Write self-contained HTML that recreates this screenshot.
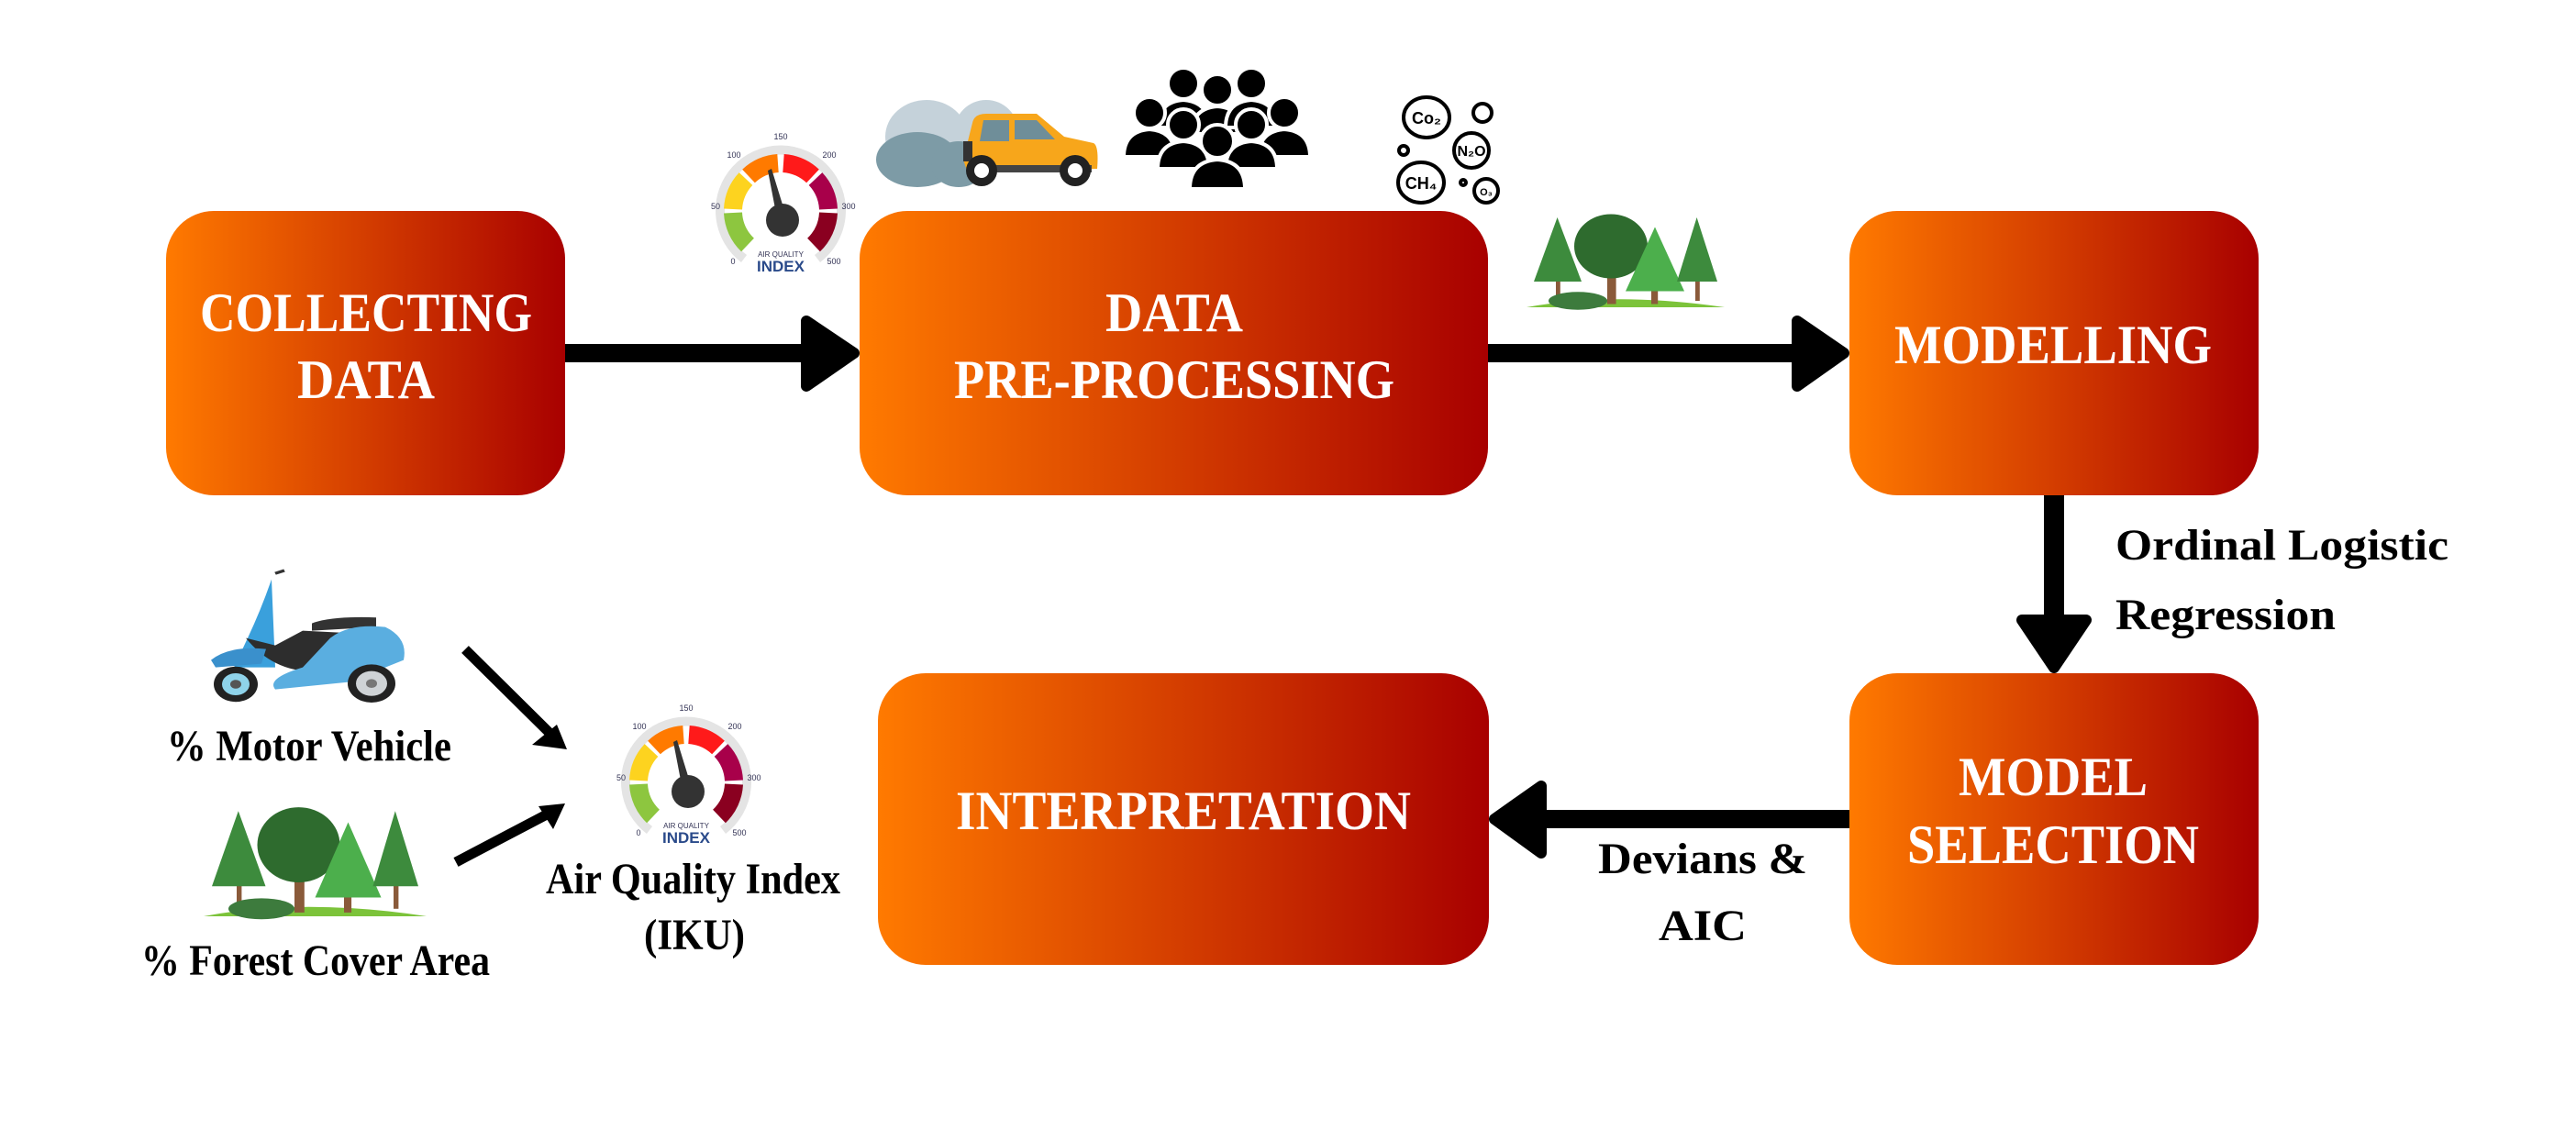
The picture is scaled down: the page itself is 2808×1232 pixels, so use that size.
<!DOCTYPE html>
<html><head><meta charset="utf-8"><style>
html,body{margin:0;padding:0;background:#fff;}
svg{display:block;}
text{font-family:"Liberation Serif",serif;font-weight:bold;}
</style></head><body>
<svg width="2808" height="1232" viewBox="0 0 2808 1232" xmlns="http://www.w3.org/2000/svg">
<defs>
<linearGradient id="g" x1="0" y1="0" x2="1" y2="0">
<stop offset="0" stop-color="#ff7a00"/><stop offset="1" stop-color="#a80000"/>
</linearGradient>
</defs>
<rect width="2808" height="1232" fill="#fff"/>

<!-- boxes -->
<rect x="181" y="230" width="435" height="310" rx="52" fill="url(#g)"/>
<rect x="937" y="230" width="685" height="310" rx="52" fill="url(#g)"/>
<rect x="2016" y="230" width="446" height="310" rx="52" fill="url(#g)"/>
<rect x="2016" y="734" width="446" height="318" rx="52" fill="url(#g)"/>
<rect x="957" y="734" width="666" height="318" rx="52" fill="url(#g)"/>

<g fill="#fff" font-size="60" text-anchor="middle">
<text x="399" y="361" textLength="362" lengthAdjust="spacingAndGlyphs">COLLECTING</text>
<text x="399" y="434" textLength="150" lengthAdjust="spacingAndGlyphs">DATA</text>
<text x="1280" y="361" textLength="150" lengthAdjust="spacingAndGlyphs">DATA</text>
<text x="1280" y="434" textLength="480" lengthAdjust="spacingAndGlyphs">PRE-PROCESSING</text>
<text x="2238" y="396" textLength="346" lengthAdjust="spacingAndGlyphs">MODELLING</text>
<text x="2238" y="867" textLength="206" lengthAdjust="spacingAndGlyphs">MODEL</text>
<text x="2238" y="941" textLength="318" lengthAdjust="spacingAndGlyphs">SELECTION</text>
<text x="1290" y="904" textLength="496" lengthAdjust="spacingAndGlyphs">INTERPRETATION</text>
</g>

<!-- arrows -->
<g fill="#000" stroke="#000" stroke-width="12" stroke-linejoin="round">
<rect x="616" y="375" width="262" height="20" stroke="none"/>
<polygon points="879,350 931,385 879,421"/>
<rect x="1622" y="375" width="336" height="20" stroke="none"/>
<polygon points="1959,350 2010,385 1959,421"/>
<rect x="2228" y="540" width="22" height="136" stroke="none"/>
<polygon points="2204,676 2274,676 2239,728"/>
<rect x="1680" y="883" width="336" height="20" stroke="none"/>
<polygon points="1680,857 1629,893 1680,930"/>
</g>
<g stroke="#000" stroke-width="11" fill="none">
<line x1="507" y1="708" x2="600" y2="800"/>
<line x1="497" y1="940" x2="596" y2="888"/>
</g>
<polygon points="618,817 580,812 607,790" fill="#000"/>
<polygon points="616,876 603,904 587,879" fill="#000"/>

<!-- labels -->
<g fill="#000" font-size="48" text-anchor="start">
<text x="182" y="829" textLength="310" lengthAdjust="spacingAndGlyphs">% Motor Vehicle</text>
<text x="154" y="1063" textLength="380" lengthAdjust="spacingAndGlyphs">% Forest Cover Area</text>
<text x="595" y="974" textLength="321" lengthAdjust="spacingAndGlyphs">Air Quality Index</text>
<text x="757" y="1035" text-anchor="middle" textLength="110" lengthAdjust="spacingAndGlyphs">(IKU)</text>
<text x="2306" y="610" textLength="363" lengthAdjust="spacingAndGlyphs">Ordinal Logistic</text>
<text x="2306" y="686" textLength="240" lengthAdjust="spacingAndGlyphs">Regression</text>
<text x="1742" y="952" textLength="228" lengthAdjust="spacingAndGlyphs">Devians &amp;</text>
<text x="1856" y="1025" text-anchor="middle" textLength="96" lengthAdjust="spacingAndGlyphs">AIC</text>
</g>

<!-- gauge 1 -->
<g transform="translate(851,230)">
<path d="M -40 52 A 66 66 0 1 1 40 52" fill="none" stroke="#e4e4e4" stroke-width="10"/>
<g fill="none" stroke-width="20">
<path d="M -36 37 A 52 52 0 0 1 -52 2" stroke="#8dc63f"/>
<path d="M -52 -2 A 52 52 0 0 1 -38 -35" stroke="#fdd31f"/>
<path d="M -35 -38 A 52 52 0 0 1 -3 -52" stroke="#ff7a00"/>
<path d="M 3 -52 A 52 52 0 0 1 35 -38" stroke="#ff1a1a"/>
<path d="M 38 -35 A 52 52 0 0 1 52 -2" stroke="#a8004a"/>
<path d="M 52 2 A 52 52 0 0 1 36 37" stroke="#8a0020"/>
</g>
<polygon points="-14,-44 -10,-46 6,6 -4,8" fill="#333"/>
<circle cx="2" cy="10" r="18" fill="#333"/>
<g fill="#335" text-anchor="middle">
<text x="0" y="-78" style="font-family:'Liberation Sans',sans-serif;font-weight:normal;font-size:9px">150</text>
<text x="-51" y="-58" style="font-family:'Liberation Sans',sans-serif;font-weight:normal;font-size:9px">100</text>
<text x="53" y="-58" style="font-family:'Liberation Sans',sans-serif;font-weight:normal;font-size:9px">200</text>
<text x="-71" y="-2" style="font-family:'Liberation Sans',sans-serif;font-weight:normal;font-size:9px">50</text>
<text x="74" y="-2" style="font-family:'Liberation Sans',sans-serif;font-weight:normal;font-size:9px">300</text>
<text x="-52" y="58" style="font-family:'Liberation Sans',sans-serif;font-weight:normal;font-size:9px">0</text>
<text x="58" y="58" style="font-family:'Liberation Sans',sans-serif;font-weight:normal;font-size:9px">500</text>
<text x="0" y="50" style="font-family:'Liberation Sans',sans-serif;font-weight:normal;font-size:8px">AIR QUALITY</text>
<text x="0" y="66" fill="#2a4a8a" style="font-family:'Liberation Sans',sans-serif;font-size:17px">INDEX</text>
</g>
</g>

<!-- gauge 2 -->
<g transform="translate(748,853)">
<path d="M -40 52 A 66 66 0 1 1 40 52" fill="none" stroke="#e4e4e4" stroke-width="10"/>
<g fill="none" stroke-width="20">
<path d="M -36 37 A 52 52 0 0 1 -52 2" stroke="#8dc63f"/>
<path d="M -52 -2 A 52 52 0 0 1 -38 -35" stroke="#fdd31f"/>
<path d="M -35 -38 A 52 52 0 0 1 -3 -52" stroke="#ff7a00"/>
<path d="M 3 -52 A 52 52 0 0 1 35 -38" stroke="#ff1a1a"/>
<path d="M 38 -35 A 52 52 0 0 1 52 -2" stroke="#a8004a"/>
<path d="M 52 2 A 52 52 0 0 1 36 37" stroke="#8a0020"/>
</g>
<polygon points="-14,-44 -10,-46 6,6 -4,8" fill="#333"/>
<circle cx="2" cy="10" r="18" fill="#333"/>
<g fill="#335" text-anchor="middle">
<text x="0" y="-78" style="font-family:'Liberation Sans',sans-serif;font-weight:normal;font-size:9px">150</text>
<text x="-51" y="-58" style="font-family:'Liberation Sans',sans-serif;font-weight:normal;font-size:9px">100</text>
<text x="53" y="-58" style="font-family:'Liberation Sans',sans-serif;font-weight:normal;font-size:9px">200</text>
<text x="-71" y="-2" style="font-family:'Liberation Sans',sans-serif;font-weight:normal;font-size:9px">50</text>
<text x="74" y="-2" style="font-family:'Liberation Sans',sans-serif;font-weight:normal;font-size:9px">300</text>
<text x="-52" y="58" style="font-family:'Liberation Sans',sans-serif;font-weight:normal;font-size:9px">0</text>
<text x="58" y="58" style="font-family:'Liberation Sans',sans-serif;font-weight:normal;font-size:9px">500</text>
<text x="0" y="50" style="font-family:'Liberation Sans',sans-serif;font-weight:normal;font-size:8px">AIR QUALITY</text>
<text x="0" y="66" fill="#2a4a8a" style="font-family:'Liberation Sans',sans-serif;font-size:17px">INDEX</text>
</g>
</g>

<!-- car & smoke -->
<g transform="translate(0,-16)">
<ellipse cx="1010" cy="165" rx="45" ry="40" fill="#c5d2da"/>
<ellipse cx="1075" cy="160" rx="35" ry="35" fill="#c5d2da"/>
<ellipse cx="1000" cy="190" rx="45" ry="30" fill="#7d9ba6"/>
<ellipse cx="1045" cy="195" rx="30" ry="25" fill="#7d9ba6"/>
<path d="M1050 190 L1060 150 Q1062 140 1075 140 L1130 140 L1160 165 L1192 172 Q1198 175 1196 200 L1055 205 Z" fill="#f7a61b"/>
<path d="M1072 147 L1100 147 L1100 170 L1068 170 Z M1106 147 L1130 147 L1150 168 L1106 168 Z" fill="#6f8e99"/>
<rect x="1050" y="170" width="10" height="22" fill="#333"/>
<rect x="1060" y="196" width="130" height="8" fill="#444"/>
<circle cx="1070" cy="202" r="17" fill="#222"/><circle cx="1070" cy="202" r="8" fill="#fff"/>
<circle cx="1172" cy="202" r="17" fill="#222"/><circle cx="1172" cy="202" r="8" fill="#fff"/>
</g>

<!-- people -->
<g fill="#000" stroke="#fff" stroke-width="4" transform="translate(0,-14)">
<g transform="translate(1290,105)"><circle r="17"/><path d="M-28 48 Q-28 20 0 18 Q28 20 28 48 Z"/></g>
<g transform="translate(1327,112)"><circle r="17"/><path d="M-28 48 Q-28 20 0 18 Q28 20 28 48 Z"/></g>
<g transform="translate(1364,105)"><circle r="17"/><path d="M-28 48 Q-28 20 0 18 Q28 20 28 48 Z"/></g>
<g transform="translate(1253,137)"><circle r="17"/><path d="M-28 48 Q-28 20 0 18 Q28 20 28 48 Z"/></g>
<g transform="translate(1400,137)"><circle r="17"/><path d="M-28 48 Q-28 20 0 18 Q28 20 28 48 Z"/></g>
<g transform="translate(1290,150)"><circle r="17"/><path d="M-28 48 Q-28 20 0 18 Q28 20 28 48 Z"/></g>
<g transform="translate(1364,150)"><circle r="17"/><path d="M-28 48 Q-28 20 0 18 Q28 20 28 48 Z"/></g>
<g transform="translate(1327,168)"><circle r="18"/><path d="M-30 52 Q-30 22 0 20 Q30 22 30 52 Z"/></g>
</g>

<!-- gases -->
<g transform="translate(0,-14)">
<g fill="none" stroke="#000" stroke-width="4">
<ellipse cx="1555" cy="142" rx="25" ry="22"/>
<circle cx="1616" cy="137" r="10"/>
<circle cx="1604" cy="178" r="19"/>
<ellipse cx="1549" cy="213" rx="25" ry="22"/>
<circle cx="1620" cy="222" r="13"/>
<circle cx="1530" cy="178" r="5"/>
<circle cx="1595" cy="213" r="3"/>
</g>
<g fill="#000" text-anchor="middle">
<text x="1555" y="149" style="font-family:'Liberation Sans',sans-serif;font-size:18px">Co₂</text>
<text x="1604" y="184" style="font-family:'Liberation Sans',sans-serif;font-size:16px">N₂O</text>
<text x="1549" y="220" style="font-family:'Liberation Sans',sans-serif;font-size:18px">CH₄</text>
<text x="1620" y="227" style="font-family:'Liberation Sans',sans-serif;font-size:11px">O₃</text>
</g>
</g>

<!-- trees top -->
<g transform="translate(1664,230) scale(0.8,0.7)">
<path d="M0 150 Q120 125 270 150 Z" fill="#7cc33a"/>
<rect x="40" y="80" width="6" height="60" fill="#8a5a3a"/>
<polygon points="42,10 10,110 75,110" fill="#3d8b3d"/>
<rect x="110" y="70" width="12" height="75" fill="#8a5a3a"/>
<circle cx="115" cy="55" r="50" fill="#2e6b2e"/>
<rect x="170" y="100" width="9" height="45" fill="#8a5a3a"/>
<polygon points="175,25 135,125 215,125" fill="#4caf4c"/>
<rect x="230" y="80" width="6" height="60" fill="#8a5a3a"/>
<polygon points="232,10 205,110 260,110" fill="#3d8b3d"/>
<ellipse cx="70" cy="140" rx="40" ry="14" fill="#3d7b3d"/>
</g>

<!-- trees bottom -->
<g transform="translate(222,876) scale(0.9,0.82)">
<path d="M0 150 Q120 125 270 150 Z" fill="#7cc33a"/>
<rect x="40" y="80" width="6" height="60" fill="#8a5a3a"/>
<polygon points="42,10 10,110 75,110" fill="#3d8b3d"/>
<rect x="110" y="70" width="12" height="75" fill="#8a5a3a"/>
<circle cx="115" cy="55" r="50" fill="#2e6b2e"/>
<rect x="170" y="100" width="9" height="45" fill="#8a5a3a"/>
<polygon points="175,25 135,125 215,125" fill="#4caf4c"/>
<rect x="230" y="80" width="6" height="60" fill="#8a5a3a"/>
<polygon points="232,10 205,110 260,110" fill="#3d8b3d"/>
<ellipse cx="70" cy="140" rx="40" ry="14" fill="#3d7b3d"/>
</g>

<!-- scooter -->
<g transform="translate(0,-86) translate(0,708) scale(1,0.8) translate(0,-708)">
<path d="M300 712 L310 708" stroke="#333" stroke-width="4"/>
<path d="M296 720 Q285 760 270 800 L255 840 L300 840 Z" fill="#3aa0dc"/>
<path d="M268 800 Q300 850 350 845 L400 840 Q425 815 410 795 L330 790 L300 810 Z" fill="#2d2d2d"/>
<path d="M340 780 Q360 770 410 772 L410 785 L340 790 Z" fill="#333"/>
<path d="M360 800 Q380 780 420 785 Q445 800 440 830 L380 860 L300 870 Q290 855 330 840 Z" fill="#5aaee0"/>
<path d="M230 830 Q250 810 290 815 L285 835 L235 840 Z" fill="#3a90cc"/>
<circle cx="257" cy="863" r="24" fill="#222"/><circle cx="257" cy="863" r="15" fill="#8fd3ea"/><circle cx="257" cy="863" r="6" fill="#555"/>
<circle cx="405" cy="862" r="26" fill="#222"/><circle cx="405" cy="862" r="17" fill="#cfd3d6"/><circle cx="405" cy="862" r="6" fill="#777"/>
</g>
</svg>
</body></html>
